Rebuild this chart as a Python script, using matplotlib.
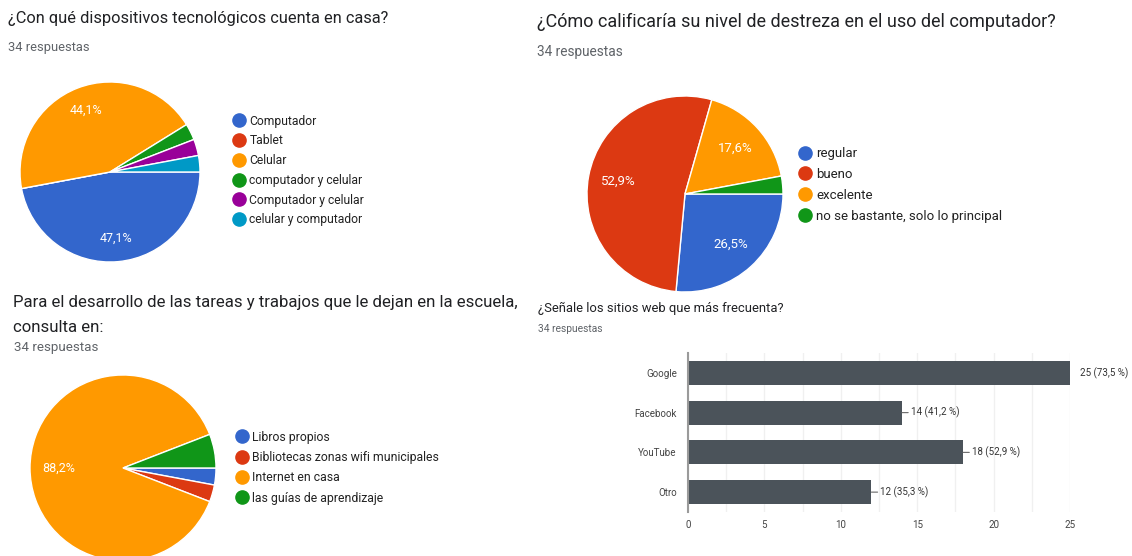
import matplotlib
matplotlib.use('Agg')
import matplotlib.pyplot as plt
from matplotlib.lines import Line2D

plt.rcParams['font.family'] = ['Roboto', 'DejaVu Sans']

# --- datos ---
total = 34

disp_labels = ['Computador', 'Tablet', 'Celular', 'computador y celular',
               'Computador y celular', 'celular y computador']
disp_counts = [16, 0, 15, 1, 1, 1]

destreza_labels = ['regular', 'bueno', 'excelente', 'no se bastante, solo lo principal']
destreza_counts = [9, 18, 6, 1]

consulta_labels = ['Libros propios', 'Bibliotecas zonas wifi municipales',
                   'Internet en casa', 'las guías de aprendizaje']
consulta_counts = [1, 1, 30, 2]

sitios = ['Google', 'Facebook', 'YouTube', 'Otro']
sitios_counts = [25, 14, 18, 12]

pal = ['#3366cc', '#dc3912', '#ff9900', '#109618', '#990099', '#0099c6']
bar_color = '#4b535a'
title_col = '#202124'
sub_col = '#5f6368'

W, H = 1132, 556
fig = plt.figure(figsize=(W / 100, H / 100), dpi=100)
fig.patch.set_facecolor('white')


def fx(x):
    return x / W


def fy(y):
    return 1 - y / H


def comma(p):
    return f"{p:.1f}".replace('.', ',')


def pie_at(counts, cx, cy, r, cut=None, pctdist=0.7, fs=9):
    pad = 1.06
    x0, x1 = cx - pad * r, cx + pad * r
    y0, y1 = cy - pad * r, cy + pad * r
    if cut is not None:
        y1 = min(y1, cut)
    ax = fig.add_axes([fx(x0), fy(y1), (x1 - x0) / W, (y1 - y0) / H])
    wedges, _, autotexts = ax.pie(
        counts, colors=pal[:len(counts)], startangle=0, counterclock=False,
        autopct=lambda p: comma(p) + '%' if p > 10 else '',
        pctdistance=pctdist, radius=1,
        wedgeprops=dict(edgecolor='white', linewidth=1),
        textprops=dict(color='white', fontsize=fs))
    ax.set_aspect('auto')
    ax.set_xlim(-pad, pad)
    ax.set_ylim(-(y1 - cy) / r, pad)
    ax.axis('off')
    return ax


def legend_at(labels, colors, xm, ym, step, fs=9):
    handles = [Line2D([], [], marker='o', ls='', markersize=9.5,
                      markerfacecolor=c, markeredgecolor=c) for c in colors]
    fsp = fs * 100 / 72
    th = 1.04 * fsp
    leg = fig.legend(handles, labels, loc='upper left',
                     bbox_to_anchor=(fx(xm - 0.5 * fsp), fy(ym - th / 2)),
                     frameon=False, fontsize=fs, handlelength=1.0,
                     handletextpad=0.35, borderpad=0, borderaxespad=0,
                     labelspacing=(step - th) / fsp)
    for t in leg.get_texts():
        t.set_color('#222222')
    return leg


# ---- arriba izquierda ----
fig.text(fx(8), fy(19), '¿Con qué dispositivos tecnológicos cuenta en casa?',
         fontsize=11.8, color=title_col, va='center')
fig.text(fx(8), fy(47), '34 respuestas', fontsize=9.3, color=sub_col, va='center')
pie_at(disp_counts, 110, 172, 90, pctdist=0.74)
legend_at(disp_labels, pal, 239, 121, 19.3, fs=8.7)

# ---- arriba derecha ----
fig.text(fx(537), fy(22), '¿Cómo calificaría su nivel de destreza en el uso del computador?',
         fontsize=13, color=title_col, va='center')
fig.text(fx(537), fy(52), '34 respuestas', fontsize=9.8, color=sub_col, va='center')
pie_at(destreza_counts, 685, 194, 98, cut=287, pctdist=0.69, fs=9.5)
legend_at(destreza_labels, pal[:4], 805, 154, 21.6, fs=9.5)

# ---- abajo izquierda ----
fig.text(fx(13), fy(303),
         'Para el desarrollo de las tareas y trabajos que le dejan en la escuela,',
         fontsize=12.1, color=title_col, va='center')
fig.text(fx(13), fy(328), 'consulta en:', fontsize=12.1, color=title_col, va='center')
fig.text(fx(14), fy(347), '34 respuestas', fontsize=9.6, color=sub_col, va='center')
pie_at(consulta_counts, 123, 468, 93, cut=H, pctdist=0.69)
legend_at(consulta_labels, pal[:4], 242, 437, 20, fs=8.8)

# ---- abajo derecha: barras ----
fig.text(fx(538), fy(308), '¿Señale los sitios web que más frecuenta?',
         fontsize=9.4, color=title_col, va='center')
fig.text(fx(538), fy(329), '34 respuestas', fontsize=7.4, color=sub_col, va='center')

axb = fig.add_axes([fx(688), fy(512), (1070 - 688) / W, (512 - 353) / H])
ypos = list(range(len(sitios)))
axb.barh(ypos, sitios_counts, height=0.6, color=bar_color, zorder=3)
axb.set_xlim(0, 25)
axb.set_ylim(len(sitios) - 0.5, -0.5)
axb.set_yticks(ypos)
axb.set_yticklabels(sitios)
axb.set_xticks([0, 5, 10, 15, 20, 25])
axb.set_xticks([2.5, 7.5, 12.5, 17.5, 22.5], minor=True)
axb.grid(axis='x', which='both', color='#f0f0f0', linewidth=1, zorder=0)
axb.tick_params(axis='both', which='both', length=0, labelsize=7,
                labelcolor='#444444')
axb.tick_params(axis='x', pad=6)
axb.tick_params(axis='y', pad=8)
for s in ['top', 'right', 'bottom']:
    axb.spines[s].set_visible(False)
axb.spines['left'].set_color('#9a9a9a')
axb.spines['left'].set_linewidth(1.5)
axb.spines['left'].set_zorder(4)

vmax = max(sitios_counts)
for i, v in enumerate(sitios_counts):
    txt = f"{v} ({comma(v / total * 100)} %)"
    if v == vmax:
        axb.annotate(txt, xy=(v, i), xytext=(7, 0), textcoords='offset points',
                     va='center', ha='left', fontsize=7, color='#333333',
                     annotation_clip=False)
    else:
        axb.annotate(txt, xy=(v, i), xytext=(6.5, 0), textcoords='offset points',
                     va='center', ha='left', fontsize=7, color='#333333',
                     arrowprops=dict(arrowstyle='-', color='#666666', lw=0.8,
                                     shrinkA=0, shrinkB=0))

fig.savefig('out.png', dpi=100)
